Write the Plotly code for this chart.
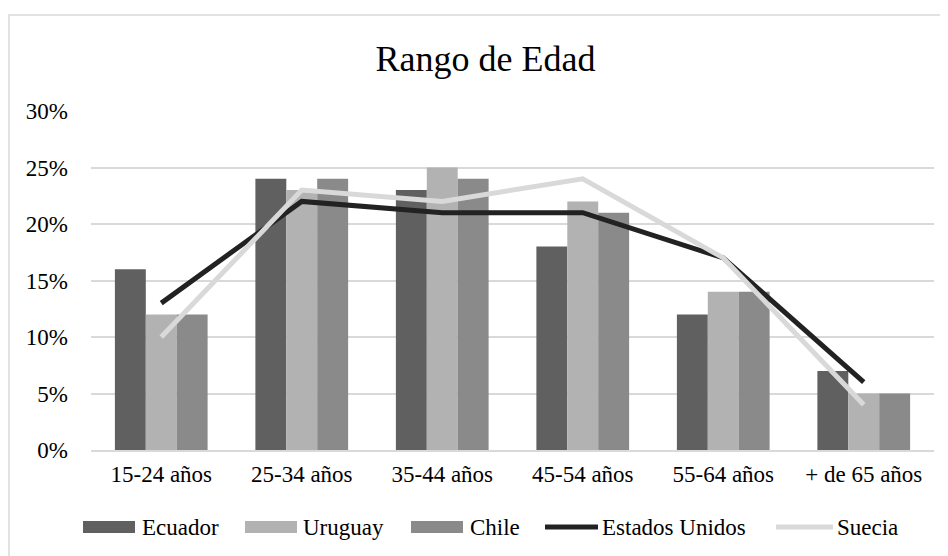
import plotly.graph_objects as go

categories = ["15-24 años", "25-34 años", "35-44 años", "45-54 años", "55-64 años", "+ de 65 años"]
ecuador = [0.16, 0.24, 0.23, 0.18, 0.12, 0.07]
uruguay = [0.12, 0.23, 0.25, 0.22, 0.14, 0.05]
chile = [0.12, 0.24, 0.24, 0.21, 0.14, 0.05]
estados_unidos = [0.13, 0.22, 0.21, 0.21, 0.17, 0.06]
suecia = [0.10, 0.23, 0.22, 0.24, 0.17, 0.04]
y_ticks = [0, 0.05, 0.10, 0.15, 0.20, 0.25, 0.30]
y_ticklabels = ["0%", "5%", "10%", "15%", "20%", "25%", "30%"]

FONT = "Liberation Serif"
COLORS = {"Ecuador": "#606060", "Uruguay": "#b2b2b2", "Chile": "#8a8a8a",
          "Estados Unidos": "#222222", "Suecia": "#d9d9d9"}

fig = go.Figure()
for name, vals in [("Ecuador", ecuador), ("Uruguay", uruguay), ("Chile", chile)]:
    fig.add_trace(go.Bar(name=name, x=categories, y=vals, marker_color=COLORS[name],
                         marker_line_width=0, showlegend=False))
for name, vals in [("Estados Unidos", estados_unidos), ("Suecia", suecia)]:
    fig.add_trace(go.Scatter(name=name, x=categories, y=vals, mode="lines",
                             line=dict(color=COLORS[name], width=5), showlegend=False))

# page has an 8px body margin; figure coords = page coords - 8
OFF = 8
W, H = 940, 548
L, R, T, B = 91 - OFF, 14, 111 - OFF, 548 - (450 - OFF)
pw, ph = W - L - R, H - T - B

def px_x(x):
    return (x - OFF - L) / pw

def px_y(y):
    return (H - B - (y - OFF)) / ph

shapes = [dict(type="rect", xref="paper", yref="paper",
               x0=px_x(9), x1=px_x(990), y0=px_y(600), y1=px_y(15),
               line=dict(color="#d9d9d9", width=1.5), fillcolor="rgba(0,0,0,0)", layer="below")]
annotations = []

# legend (page coordinates of swatch start, text start)
legend_items = [("Ecuador", "bar", 83, 140), ("Uruguay", "bar", 245, 301), ("Chile", "bar", 411, 468),
                ("Estados Unidos", "line", 545, 600), ("Suecia", "line", 776, 835)]
LEG_Y = 527
for name, kind, sx, tx in legend_items:
    if kind == "bar":
        shapes.append(dict(type="rect", xref="paper", yref="paper",
                           x0=px_x(sx), x1=px_x(sx + 52), y0=px_y(LEG_Y + 6), y1=px_y(LEG_Y - 6),
                           fillcolor=COLORS[name], line=dict(width=0)))
    else:
        shapes.append(dict(type="line", xref="paper", yref="paper",
                           x0=px_x(sx), x1=px_x(tx - 2), y0=px_y(LEG_Y), y1=px_y(LEG_Y),
                           line=dict(color=COLORS[name], width=5)))
    annotations.append(dict(text=name, xref="paper", yref="paper", x=px_x(tx), y=px_y(LEG_Y),
                            xanchor="left", yanchor="middle", showarrow=False,
                            font=dict(family=FONT, size=23, color="#000000")))

fig.update_layout(
    width=W, height=H,
    margin=dict(l=L, r=R, t=T, b=B),
    paper_bgcolor="white", plot_bgcolor="white",
    font=dict(family=FONT, size=23, color="#000000"),
    barmode="group", bargap=0.34, bargroupgap=0,
    title=dict(text="Rango de Edad", font=dict(family=FONT, size=36, color="#000000"),
               x=px_x(485.5), xref="paper", xanchor="center",
               y=1 - (58 - OFF) / H, yref="container", yanchor="middle"),
    showlegend=False,
    shapes=shapes,
    annotations=annotations,
)
fig.update_xaxes(showgrid=False, showline=True, linecolor="#d9d9d9", linewidth=1.5,
                 ticks="", ticklabelstandoff=3, tickfont=dict(family=FONT, size=23, color="#000000"))
fig.update_yaxes(range=[0, 0.3], tickvals=y_ticks, ticktext=y_ticklabels,
                 showgrid=True, gridcolor="#d9d9d9", gridwidth=1.5, zeroline=False,
                 showline=False, ticks="", ticklabelstandoff=22,
                 tickfont=dict(family=FONT, size=23, color="#000000"))

fig.write_html("out.html")
